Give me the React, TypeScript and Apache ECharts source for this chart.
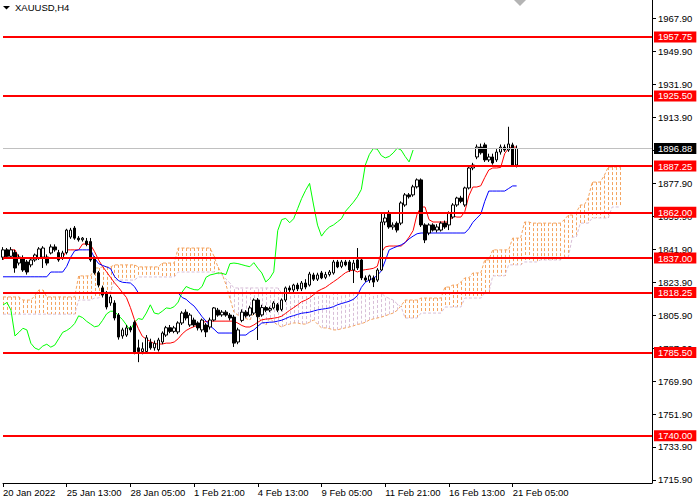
import React, { useEffect, useRef } from "react";
import * as echarts from "echarts";

const FONT = '"Liberation Sans", Arial, sans-serif';

const tickLabels = [
  "20 Jan 2022", "25 Jan 13:00", "28 Jan 05:00", "1 Feb 21:00", "4 Feb 13:00",
  "9 Feb 05:00", "11 Feb 21:00", "16 Feb 13:00", "21 Feb 05:00",
];

const priceTicks = [
  1715.9, 1733.9, 1751.9, 1769.9, 1787.9, 1805.9, 1823.9, 1841.9,
  1859.9, 1877.9, 1895.9, 1913.9, 1931.9, 1949.9, 1967.9,
];
// 1895.90 is fully hidden behind the current-price box in the reference
const priceLabels = [
  1715.9, 1733.9, 1751.9, 1769.9, 1787.9, 1805.9, 1823.9, 1841.9,
  1859.9, 1877.9, 1913.9, 1931.9, 1949.9, 1967.9,
];

const levels = [1957.75, 1925.5, 1887.25, 1862.0, 1837.0, 1818.25, 1785.5, 1740.0];
const lastPrice = 1896.88;

// [open, close, low, high]
const candles = [
  [1837.5, 1841.5, 1836.0, 1843.0], [1841.5, 1838.0, 1836.5, 1842.5], [1838.0, 1841.5, 1837.0, 1843.0],
  [1840.0, 1831.6, 1829.0, 1841.5], [1834.3, 1837.6, 1833.0, 1839.0], [1837.0, 1830.5, 1829.5, 1838.5],
  [1834.9, 1829.4, 1828.0, 1836.0], [1833.3, 1836.0, 1832.0, 1837.0], [1836.0, 1838.7, 1835.0, 1839.5],
  [1837.1, 1842.0, 1836.0, 1843.0], [1837.5, 1842.5, 1831.6, 1843.5], [1837.6, 1834.3, 1833.0, 1839.0],
  [1839.8, 1843.1, 1839.0, 1844.5], [1843.1, 1841.5, 1840.5, 1844.5], [1840.0, 1836.0, 1835.0, 1841.5],
  [1837.0, 1839.8, 1836.0, 1841.0], [1840.0, 1852.3, 1839.0, 1853.0], [1848.5, 1852.3, 1847.5, 1853.5],
  [1853.4, 1847.9, 1847.0, 1854.5], [1847.9, 1847.0, 1846.0, 1849.0], [1847.0, 1847.9, 1846.0, 1848.5],
  [1846.3, 1844.5, 1843.5, 1848.0], [1846.0, 1836.0, 1835.0, 1848.0], [1837.0, 1829.0, 1828.0, 1838.0],
  [1829.0, 1822.3, 1821.0, 1830.0], [1820.7, 1816.8, 1815.5, 1822.0], [1818.0, 1810.3, 1809.0, 1819.0],
  [1812.5, 1815.8, 1811.0, 1817.0], [1812.5, 1804.3, 1803.0, 1814.0], [1805.9, 1793.9, 1792.5, 1807.0],
  [1794.5, 1797.8, 1793.0, 1799.0], [1795.0, 1798.9, 1794.0, 1800.5], [1799.0, 1797.8, 1796.5, 1800.0],
  [1802.0, 1785.7, 1784.5, 1803.0], [1788.0, 1786.0, 1780.2, 1792.5], [1786.0, 1787.5, 1784.5, 1791.0],
  [1786.0, 1793.5, 1785.0, 1795.0], [1791.0, 1788.0, 1787.0, 1793.0], [1788.0, 1790.5, 1786.5, 1792.0],
  [1787.0, 1792.3, 1786.0, 1793.5], [1791.2, 1796.1, 1790.0, 1797.0], [1795.0, 1799.0, 1794.0, 1800.0],
  [1799.0, 1797.0, 1796.0, 1800.5], [1797.0, 1798.9, 1796.0, 1800.0], [1796.7, 1801.6, 1795.5, 1802.5],
  [1801.6, 1807.0, 1800.5, 1808.0], [1807.5, 1804.3, 1803.0, 1809.0], [1800.5, 1805.9, 1799.5, 1807.0],
  [1803.2, 1800.5, 1799.5, 1804.5], [1801.6, 1798.9, 1797.5, 1802.5], [1797.8, 1803.2, 1796.5, 1804.0],
  [1800.5, 1796.7, 1793.9, 1801.5], [1799.4, 1803.2, 1798.0, 1804.5], [1803.2, 1809.8, 1802.5, 1810.3],
  [1808.6, 1805.9, 1805.0, 1809.8], [1806.0, 1807.5, 1805.0, 1808.6], [1807.5, 1805.9, 1805.0, 1808.6],
  [1805.9, 1804.3, 1803.0, 1807.0], [1804.8, 1790.6, 1788.5, 1806.0], [1791.2, 1797.8, 1790.0, 1799.0],
  [1803.0, 1807.5, 1802.0, 1809.0], [1807.5, 1805.5, 1804.5, 1808.6], [1805.9, 1809.8, 1805.0, 1811.0],
  [1807.0, 1814.1, 1806.0, 1815.0], [1814.1, 1805.0, 1792.3, 1815.2], [1806.0, 1810.0, 1805.0, 1811.5],
  [1810.0, 1808.6, 1807.5, 1811.0], [1808.6, 1809.5, 1807.5, 1810.5], [1809.8, 1812.5, 1809.0, 1813.5],
  [1811.5, 1808.6, 1807.5, 1812.5], [1809.0, 1814.1, 1808.0, 1815.0], [1814.1, 1820.7, 1813.0, 1821.5],
  [1820.7, 1819.6, 1818.5, 1822.0], [1819.6, 1822.3, 1818.5, 1823.0], [1822.3, 1820.2, 1819.0, 1823.5],
  [1820.2, 1823.4, 1819.0, 1824.5], [1823.4, 1821.2, 1820.0, 1825.5], [1822.3, 1828.3, 1821.5, 1829.5],
  [1827.8, 1825.5, 1824.5, 1829.0], [1825.5, 1827.8, 1824.5, 1829.0], [1828.9, 1826.2, 1825.5, 1830.0],
  [1826.5, 1828.0, 1825.5, 1829.5], [1828.0, 1829.4, 1827.0, 1830.5], [1828.9, 1834.9, 1828.0, 1836.0],
  [1834.9, 1832.2, 1831.5, 1836.0], [1832.5, 1834.9, 1831.5, 1836.0], [1834.9, 1833.3, 1832.5, 1836.0],
  [1834.9, 1830.5, 1829.5, 1836.0], [1830.5, 1834.3, 1823.4, 1836.0], [1836.0, 1831.6, 1830.5, 1842.5],
  [1836.0, 1826.2, 1825.0, 1837.0], [1826.2, 1825.0, 1824.0, 1827.5], [1825.0, 1827.3, 1823.5, 1828.0],
  [1826.2, 1823.9, 1821.2, 1827.5], [1825.0, 1830.5, 1824.0, 1831.5], [1830.5, 1856.7, 1830.0, 1861.6],
  [1856.7, 1858.9, 1855.0, 1862.0], [1861.6, 1854.0, 1853.0, 1863.0], [1854.0, 1855.0, 1852.5, 1856.5],
  [1856.0, 1852.3, 1851.0, 1857.0], [1856.1, 1867.1, 1855.0, 1868.0], [1866.0, 1871.5, 1865.0, 1872.5],
  [1871.5, 1870.5, 1869.5, 1872.5], [1871.5, 1875.9, 1870.5, 1877.0], [1875.9, 1879.7, 1875.0, 1880.5],
  [1879.7, 1855.1, 1854.0, 1880.5], [1855.1, 1846.9, 1845.2, 1856.0], [1850.7, 1855.1, 1849.5, 1856.0],
  [1855.1, 1852.3, 1851.5, 1856.0], [1852.3, 1854.0, 1851.0, 1855.5], [1852.3, 1856.1, 1851.5, 1857.0],
  [1856.1, 1854.0, 1853.0, 1857.5], [1855.1, 1861.6, 1852.3, 1862.5], [1859.4, 1866.0, 1858.5, 1867.0],
  [1866.0, 1869.8, 1865.0, 1870.5], [1869.8, 1868.0, 1867.0, 1871.0], [1866.0, 1875.3, 1865.0, 1876.0],
  [1875.3, 1886.2, 1874.5, 1887.0], [1886.2, 1887.8, 1885.0, 1889.0], [1892.2, 1897.6, 1891.0, 1899.0],
  [1897.6, 1894.5, 1893.5, 1899.5], [1898.8, 1890.6, 1889.5, 1900.0], [1890.6, 1892.2, 1889.5, 1894.0],
  [1892.2, 1888.9, 1888.0, 1894.0], [1890.6, 1894.9, 1889.5, 1896.5], [1894.9, 1897.6, 1893.5, 1899.0],
  [1897.6, 1896.0, 1895.0, 1899.0], [1896.0, 1899.3, 1895.0, 1908.7], [1898.8, 1887.8, 1887.0, 1900.0],
  [1887.8, 1896.88, 1886.5, 1898.5],
];

const tenkan = [
  1836.0, 1839.0, 1841.5, 1841.5, 1837.1,
  1837.1, 1837.1, 1837.1, 1837.1, 1837.1, 1837.1, 1837.1, 1837.1, 1837.1, 1837.1, 1837.1,
  1841.5, 1841.5, 1841.5, 1841.5,
  1844.7, 1844.7, 1844.2, 1840.5, 1836.0, 1832.5, 1829.5, 1826.5, 1823.5, 1821.0,
  1818.2, 1815.5, 1810.0, 1803.5, 1798.5, 1794.3, 1792.8, 1791.5, 1790.3, 1790.1,
  1790.1, 1790.6, 1790.6, 1791.2, 1793.0, 1795.6, 1797.5, 1798.7, 1799.6, 1800.5,
  1801.8, 1802.4, 1802.6, 1802.6, 1802.6, 1802.6, 1802.6, 1802.6, 1802.6, 1801.5,
  1800.2, 1799.4, 1799.4, 1800.5, 1802.0, 1803.3, 1803.7, 1803.9, 1804.2, 1804.6,
  1805.3, 1806.9, 1808.5, 1810.0, 1811.5, 1813.2, 1814.0, 1815.3, 1817.0, 1818.9,
  1820.0, 1821.0, 1822.6, 1824.1, 1825.6, 1827.3, 1829.0, 1830.0, 1830.5, 1829.4,
  1830.3, 1830.7, 1831.0, 1831.4, 1832.5, 1840.0, 1843.1, 1843.6, 1843.6, 1843.6,
  1843.6, 1845.5, 1848.5, 1852.0, 1861.0, 1864.9, 1864.9, 1858.0, 1856.7, 1856.7,
  1856.7, 1856.7, 1856.7, 1860.0, 1859.4, 1859.4, 1862.5, 1871.0, 1875.8, 1875.8,
  1876.5, 1881.0, 1885.1, 1886.2, 1886.2, 1886.5, 1894.0, 1897.0, 1897.6, 1897.6,
];

const kijun = [
  1826.8, 1826.8, 1826.8, 1826.8, 1826.8, 1826.8, 1826.8, 1826.8, 1826.8, 1826.8, 1826.8, 1826.8,
  1829.4, 1829.4, 1829.4, 1829.4,
  1832.5, 1837.5, 1841.0, 1841.5, 1841.5, 1841.5, 1841.5, 1837.0, 1834.0, 1833.0,
  1832.2, 1831.3, 1827.0, 1824.7, 1823.8, 1823.6, 1823.4, 1821.5, 1818.0, 1817.9,
  1817.9, 1817.9, 1817.9, 1817.9, 1817.9, 1817.9, 1817.9, 1817.9, 1817.9,
  1815.5, 1814.5, 1812.5, 1810.8, 1808.0,
  1805.0, 1802.6, 1800.0, 1798.2, 1796.1, 1796.1, 1796.1, 1796.1, 1796.1, 1795.0,
  1795.0, 1795.0, 1796.7, 1797.8, 1799.8, 1801.6, 1801.8, 1802.0, 1802.1, 1802.6,
  1803.1, 1804.0, 1805.0, 1805.6, 1806.3, 1806.9, 1807.2, 1807.5, 1808.1, 1808.7,
  1809.1, 1809.4, 1809.8, 1810.5, 1811.5, 1812.2, 1812.8, 1813.5, 1814.5, 1816.5,
  1821.0, 1823.8, 1825.0, 1826.0, 1827.5, 1830.0, 1835.5, 1841.5, 1842.5, 1843.4,
  1844.2, 1845.5, 1847.5, 1849.0, 1850.3,
  1850.7, 1850.7, 1850.7, 1850.7, 1850.7, 1850.7, 1850.7, 1850.7, 1850.7, 1850.7, 1850.7, 1850.7,
  1853.0, 1856.5, 1858.8, 1861.0, 1868.0,
  1873.6, 1873.6, 1873.6, 1873.6, 1873.6, 1875.0, 1876.4, 1876.4,
];

const chikou = [
  1811.4, 1812.8, 1808.6, 1794.5, 1796.5, 1798.7, 1797.8, 1790.5, 1787.9, 1787.0,
  1789.0, 1790.0, 1788.4, 1789.5, 1793.0, 1796.5, 1797.5, 1799.0, 1801.3, 1805.5,
  1804.5, 1802.5, 1801.0, 1799.5, 1800.0, 1803.0, 1806.5, 1808.0, 1808.0, 1805.5,
  1803.5, 1800.5, 1797.5, 1802.0, 1804.0, 1803.5, 1807.0, 1811.5, 1807.0, 1806.5,
  1808.0, 1809.8, 1809.5, 1810.5, 1813.0, 1818.5, 1821.5, 1820.5, 1819.8, 1819.6,
  1821.5, 1826.5, 1827.8, 1828.3, 1828.9, 1828.7, 1828.0, 1834.0, 1834.3, 1834.0,
  1833.4, 1832.8, 1832.3, 1834.5, 1831.5, 1828.9, 1824.0, 1826.0, 1829.5, 1852.0,
  1858.0, 1858.7, 1856.3, 1858.5, 1864.0, 1869.5, 1874.0, 1877.8, 1866.0, 1855.0,
  1849.0, 1852.0, 1854.0, 1855.1, 1856.8, 1858.5, 1862.5, 1865.0, 1867.5, 1870.5,
  1874.5, 1887.8, 1893.5, 1896.8, 1896.5, 1893.0, 1891.7, 1892.5, 1894.4, 1897.0,
  1896.0, 1892.5, 1889.5, 1896.0,
];

const spanA = [
  1815.8, 1815.8, 1815.8, 1815.8, 1815.8, 1814.1, 1814.1, 1814.1, 1816.5, 1819.6,
  1819.6, 1815.8, 1815.8, 1815.8, 1815.8, 1815.8, 1815.8, 1815.8, 1815.8, 1827.3,
  1827.3, 1827.3, 1827.3, 1831.6, 1831.6, 1832.2, 1832.2, 1832.2, 1833.3, 1833.3,
  1833.3, 1833.3, 1833.3, 1833.3, 1832.2, 1832.2, 1832.2, 1832.2, 1832.2, 1832.2,
  1834.3, 1834.3, 1834.3, 1834.3, 1842.5, 1842.5, 1842.5, 1842.5, 1842.5, 1842.5,
  1842.5, 1842.5, 1842.5, 1838.0, 1832.0, 1828.5, 1822.5, 1815.0, 1807.5, 1805.9,
  1805.0, 1804.0, 1803.2, 1807.0, 1805.0, 1802.5, 1800.5, 1804.3, 1802.0, 1800.5,
  1799.4, 1800.5, 1801.0, 1801.6, 1801.6, 1801.0, 1801.0, 1802.0, 1803.2, 1801.0,
  1798.9, 1798.9, 1798.5, 1797.8, 1797.8, 1798.5, 1798.9, 1799.4, 1800.0, 1800.8,
  1801.2, 1802.0, 1803.2, 1803.8, 1804.3, 1804.8, 1805.5, 1806.3, 1807.0, 1808.5,
  1811.0, 1814.1, 1814.1, 1814.1, 1814.1, 1815.2, 1815.2, 1815.2, 1815.2, 1815.2,
  1815.2, 1821.2, 1821.2, 1822.3, 1822.3, 1824.0, 1826.2, 1826.2, 1828.9, 1828.9,
  1828.9, 1836.0, 1836.0, 1841.5, 1841.5, 1841.5, 1841.5, 1841.5, 1847.9, 1847.9,
  1847.9, 1856.7, 1856.7, 1856.1, 1856.1, 1856.1, 1856.1, 1856.1, 1856.1, 1856.1,
  1856.1, 1858.0, 1860.5, 1860.5, 1862.0, 1866.0, 1866.0, 1870.0, 1878.5, 1878.5,
  1878.5, 1882.0, 1886.7, 1886.7, 1886.7, 1886.7,
];

const spanB = [
  1806.4, 1806.4, 1806.4, 1806.4, 1806.4, 1806.4, 1806.4, 1806.4, 1806.4, 1806.4,
  1806.4, 1806.4, 1806.4, 1806.4, 1806.4, 1806.4, 1806.4, 1806.4, 1806.4, 1814.1,
  1814.1, 1814.1, 1814.1, 1815.2, 1815.2, 1818.5, 1818.5, 1818.5, 1825.0, 1825.0,
  1825.0, 1825.0, 1825.0, 1825.0, 1826.7, 1826.7, 1826.7, 1826.7, 1826.7, 1826.7,
  1826.7, 1826.7, 1826.7, 1826.7, 1829.4, 1829.4, 1829.4, 1829.4, 1829.4, 1829.4,
  1829.4, 1829.4, 1829.4, 1829.4, 1828.5, 1827.8, 1825.5, 1823.4, 1820.7, 1820.7,
  1820.7, 1820.7, 1820.7, 1820.7, 1820.7, 1820.7, 1820.7, 1820.7, 1820.7, 1820.7,
  1817.9, 1817.9, 1817.9, 1817.9, 1817.9, 1817.9, 1817.9, 1817.9, 1817.9, 1817.9,
  1817.9, 1817.9, 1817.9, 1817.9, 1817.9, 1817.9, 1817.9, 1817.9, 1817.9, 1817.9,
  1817.9, 1817.9, 1817.9, 1817.9, 1817.9, 1817.9, 1816.0, 1815.0, 1814.1, 1812.0,
  1810.3, 1804.3, 1804.3, 1804.3, 1804.3, 1807.0, 1807.0, 1807.0, 1807.0, 1807.0,
  1807.0, 1810.3, 1810.3, 1810.3, 1810.3, 1810.3, 1815.2, 1815.2, 1815.2, 1815.2,
  1815.2, 1817.9, 1817.9, 1827.3, 1827.3, 1827.3, 1827.3, 1833.3, 1833.3, 1833.3,
  1833.3, 1834.9, 1834.9, 1834.9, 1834.9, 1836.0, 1836.0, 1836.0, 1836.0, 1836.0,
  1836.0, 1837.6, 1837.6, 1848.5, 1848.5, 1856.1, 1856.1, 1856.1, 1858.9, 1858.9,
  1858.9, 1858.9, 1858.9, 1864.9, 1864.9, 1864.9,
];

const BAR_COUNT = 164;
const LABEL_EVERY = 16;

export default function App() {
  const ref = useRef<HTMLDivElement>(null);

  useEffect(() => {
    if (!ref.current) return;
    const chart = echarts.init(ref.current, null, { renderer: "svg" });
    const cats = Array.from({ length: BAR_COUNT }, (_, i) => String(i));
    const hatch = spanA.map((a, i) => [i, a, spanB[i]]);
    const lastLabelIndex = (tickLabels.length - 1) * LABEL_EVERY;
    const isLabelBar = (i: number) => i % LABEL_EVERY === 0 && i <= lastLabelIndex;

    const markData: any[] = levels.map((v) => ({
      yAxis: v,
      lineStyle: { color: "#FF0000", width: 2, type: "solid" },
      label: { backgroundColor: "#FF0000", color: "#FFFFFF" },
    }));
    markData.push({
      yAxis: lastPrice,
      lineStyle: { color: "#C0C0C0", width: 1, type: "solid" },
      label: { backgroundColor: "#000000", color: "#FFFFFF" },
    });

    chart.setOption({
      animation: false,
      backgroundColor: "#FFFFFF",
      grid: { left: 0, top: 0, width: 652, height: 483, containLabel: false },
      graphic: [
        { type: "polygon", shape: { points: [[3, 6], [10, 6], [6.5, 9.5]] }, style: { fill: "#000000" } },
        {
          type: "text", x: 15, y: 7.5,
          style: { text: "XAUUSD,H4", fill: "#000000", font: `9.5px ${FONT}`, verticalAlign: "middle" },
        },
        { type: "polygon", shape: { points: [[514, 0], [526, 0], [520, 6]] }, style: { fill: "#B4B4B4" } },
      ],
      xAxis: {
        type: "category",
        data: cats,
        boundaryGap: false,
        axisLine: { show: true, lineStyle: { color: "#000000", width: 1 } },
        axisTick: {
          show: true, length: 4,
          interval: (i: number) => isLabelBar(i),
          lineStyle: { color: "#000000" },
        },
        axisLabel: {
          show: true,
          interval: (i: number) => isLabelBar(i),
          formatter: (_v: string, i: number) => tickLabels[i / LABEL_EVERY] ?? "",
          align: "left", margin: 4, color: "#000000", fontFamily: FONT, fontSize: 9.5,
        },
        splitLine: { show: false },
      },
      yAxis: {
        type: "value",
        position: "right",
        min: 1714.24,
        max: 1977.89,
        axisLine: { show: true, lineStyle: { color: "#000000", width: 1 } },
        axisTick: { show: true, length: 4, customValues: priceTicks, lineStyle: { color: "#000000" } },
        axisLabel: {
          show: true, customValues: priceLabels,
          formatter: (v: number) => v.toFixed(2),
          margin: 6, color: "#000000", fontFamily: FONT, fontSize: 9.5,
        },
        splitLine: { show: false },
      },
      series: [
        {
          type: "custom",
          name: "kumo",
          data: hatch,
          encode: { x: 0, y: [1, 2] },
          z: 1,
          silent: true,
          renderItem: (_params: any, api: any) => {
            const i = api.value(0);
            const a = api.value(1);
            const b = api.value(2);
            const p1 = api.coord([i, a]);
            const p2 = api.coord([i, b]);
            const x = Math.round(p1[0]) + 0.5;
            return {
              type: "line",
              shape: { x1: x, y1: p1[1], x2: x, y2: p2[1] },
              style: { stroke: a >= b ? "#F4A460" : "#D8BFD8", lineWidth: 1, lineDash: [3, 2] },
            };
          },
        },
        {
          type: "line", name: "Senkou A", data: spanA, symbol: "none", z: 2, silent: true,
          lineStyle: { color: "#F4A460", width: 1, type: [3, 2] },
        },
        {
          type: "line", name: "Senkou B", data: spanB, symbol: "none", z: 2, silent: true,
          lineStyle: { color: "#D8BFD8", width: 1, type: [3, 2] },
        },
        {
          type: "line", name: "Chikou", data: chikou, symbol: "none", z: 3, silent: true,
          lineStyle: { color: "#00FF00", width: 1 },
        },
        {
          type: "line", name: "Tenkan", data: tenkan, symbol: "none", z: 3, silent: true,
          lineStyle: { color: "#FF0000", width: 1 },
        },
        {
          type: "line", name: "Kijun", data: kijun, symbol: "none", z: 3, silent: true,
          lineStyle: { color: "#0000FF", width: 1 },
        },
        {
          type: "candlestick",
          name: "XAUUSD",
          data: candles,
          barWidth: 3,
          z: 4,
          silent: true,
          itemStyle: {
            color: "#FFFFFF", color0: "#000000",
            borderColor: "#000000", borderColor0: "#000000", borderWidth: 1,
          },
          markLine: {
            symbol: ["none", "none"],
            silent: true,
            animation: false,
            label: {
              show: true, position: "end", distance: 2,
              formatter: (p: any) => Number(p.value).toFixed(2),
              fontFamily: FONT, fontSize: 9.5, lineHeight: 10, padding: [1, 4, 0, 4],
            },
            data: markData,
          },
        },
      ],
    });

    return () => chart.dispose();
  }, []);

  return (
    <div
      ref={ref}
      style={{ position: "absolute", left: 0, top: 0, width: 700, height: 500, background: "#FFFFFF" }}
    />
  );
}
